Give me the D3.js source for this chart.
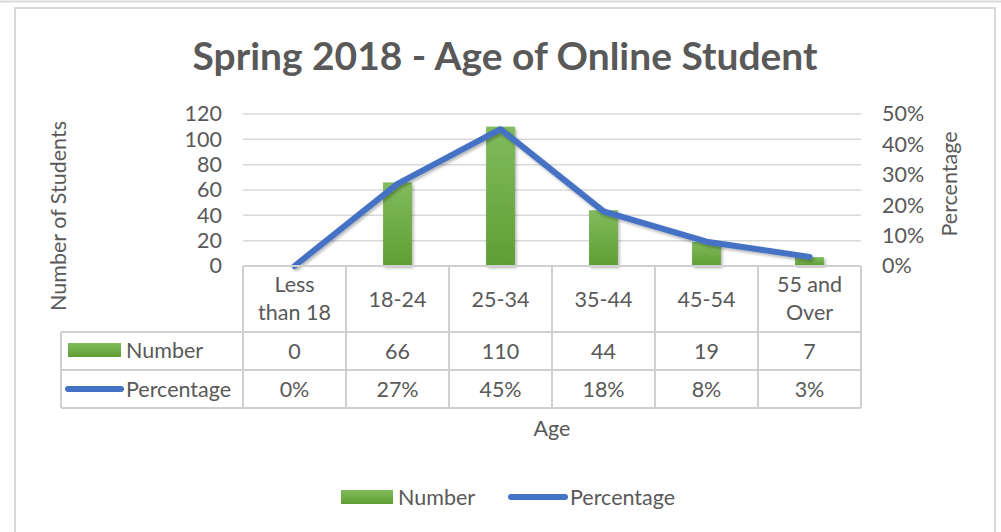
<!DOCTYPE html>
<html>
<head>
<meta charset="utf-8">
<script src="https://cdn.jsdelivr.net/npm/d3@7"></script>
<style>
  body { margin: 0; background: #fff; }
  text { font-family: Lato, "Open Sans", sans-serif; fill: #595959; }
</style>
</head>
<body>
<div id="chart"></div>
<script>
const categories = ['Less than 18', '18-24', '25-34', '35-44', '45-54', '55 and Over'];
const categoryLines = [['Less', 'than 18'], ['18-24'], ['25-34'], ['35-44'], ['45-54'], ['55 and', 'Over']];
const numbers = [0, 66, 110, 44, 19, 7];
const percentages = [0, 0.27, 0.45, 0.18, 0.08, 0.03];
const leftTicks = [0, 20, 40, 60, 80, 100, 120];
const rightTicks = [0, 0.1, 0.2, 0.3, 0.4, 0.5];

const width = 1001;
const height = 532;
const plot = {left: 243, right: 861, top: 114, bottom: 266};
const tableLeft = 61;
const rowEdges = [266, 332, 370, 408];
const fontSize = 21.5;
const blue = '#4472C4';
const gridColor = '#d9d9d9';

const svg = d3.select('#chart').append('svg')
    .attr('width', width)
    .attr('height', height);

const defs = svg.append('defs');
const grad = defs.append('linearGradient')
    .attr('id', 'barGrad')
    .attr('x1', 0).attr('y1', 0).attr('x2', 0).attr('y2', 1);
grad.append('stop').attr('offset', '0%').attr('stop-color', '#81bb5c');
grad.append('stop').attr('offset', '100%').attr('stop-color', '#5f9e34');

const shadow = defs.append('filter')
    .attr('id', 'shadow')
    .attr('x', '-20%').attr('y', '-20%')
    .attr('width', '140%').attr('height', '140%');
shadow.append('feDropShadow')
    .attr('dx', 1.5).attr('dy', 2)
    .attr('stdDeviation', 1.8)
    .attr('flood-color', '#000')
    .attr('flood-opacity', 0.3);

// frame
svg.append('line')
    .attr('x1', 0).attr('x2', width)
    .attr('y1', 1.5).attr('y2', 1.5)
    .attr('stroke', '#d9d9d9').attr('stroke-width', 2);
svg.append('path')
    .attr('d', `M15,${height} V8 H995 V${height}`)
    .attr('fill', 'none')
    .attr('stroke', '#d9d9d9')
    .attr('stroke-width', 2);

// scales
const xScale = d3.scaleBand()
    .domain(categories)
    .range([plot.left, plot.right]);
const yLeft = d3.scaleLinear()
    .domain([0, 120])
    .range([plot.bottom, plot.top]);
const yRight = d3.scaleLinear()
    .domain([0, 0.5])
    .range([plot.bottom, plot.top]);
const xMid = cat => xScale(cat) + xScale.bandwidth() / 2;

// gridlines
svg.append('g')
    .selectAll('line')
    .data(leftTicks.slice(1))
    .join('line')
    .attr('x1', plot.left).attr('x2', plot.right)
    .attr('y1', d => yLeft(d)).attr('y2', d => yLeft(d))
    .attr('stroke', gridColor)
    .attr('stroke-width', 1.5);

// left axis
const leftAxis = svg.append('g')
    .attr('transform', `translate(${plot.left - 21},0)`)
    .call(d3.axisLeft(yLeft).tickValues(leftTicks).tickSize(0).tickPadding(0));
leftAxis.select('.domain').remove();
leftAxis.selectAll('text')
    .attr('font-size', fontSize)
    .attr('font-family', 'Lato')
    .attr('fill', '#595959');

// right axis
const rightAxis = svg.append('g')
    .attr('transform', `translate(${plot.right + 21},0)`)
    .call(d3.axisRight(yRight).tickValues(rightTicks).tickFormat(d3.format('.0%')).tickSize(0).tickPadding(0));
rightAxis.select('.domain').remove();
rightAxis.selectAll('text')
    .attr('font-size', fontSize)
    .attr('font-family', 'Lato')
    .attr('fill', '#595959');

// bars
const barWidth = xScale.bandwidth() * 0.28;
svg.append('g')
    .selectAll('rect')
    .data(categories)
    .join('rect')
    .attr('x', d => xMid(d) - barWidth / 2)
    .attr('y', (d, i) => yLeft(numbers[i]))
    .attr('width', barWidth)
    .attr('height', (d, i) => plot.bottom - yLeft(numbers[i]))
    .attr('fill', 'url(#barGrad)')
    .attr('filter', 'url(#shadow)');

// line
const line = d3.line()
    .x((d, i) => xMid(categories[i]))
    .y(d => yRight(d));
svg.append('path')
    .datum(percentages)
    .attr('d', line)
    .attr('fill', 'none')
    .attr('stroke', blue)
    .attr('stroke-width', 6)
    .attr('stroke-linecap', 'round')
    .attr('stroke-linejoin', 'round')
    .attr('filter', 'url(#shadow)');

// data table
const table = svg.append('g');
const tableStroke = '#d0d0d0';
table.append('line')
    .attr('x1', plot.left).attr('x2', plot.right)
    .attr('y1', rowEdges[0]).attr('y2', rowEdges[0])
    .attr('stroke', tableStroke).attr('stroke-width', 2);
table.selectAll('.hline')
    .data(rowEdges.slice(1))
    .join('line')
    .attr('class', 'hline')
    .attr('x1', tableLeft).attr('x2', plot.right)
    .attr('y1', d => d).attr('y2', d => d)
    .attr('stroke', tableStroke).attr('stroke-width', 2);
const colEdges = categories.map(c => xScale(c)).concat([plot.right]);
table.selectAll('.vline')
    .data(colEdges)
    .join('line')
    .attr('class', 'vline')
    .attr('x1', d => d).attr('x2', d => d)
    .attr('y1', rowEdges[0]).attr('y2', rowEdges[3])
    .attr('stroke', tableStroke).attr('stroke-width', 2);
table.append('line')
    .attr('x1', tableLeft).attr('x2', tableLeft)
    .attr('y1', rowEdges[1]).attr('y2', rowEdges[3])
    .attr('stroke', tableStroke).attr('stroke-width', 2);

// category labels
const catLabels = table.selectAll('.cat')
    .data(categoryLines)
    .join('text')
    .attr('class', 'cat')
    .attr('text-anchor', 'middle')
    .attr('font-size', fontSize)
    .attr('x', (d, i) => xMid(categories[i]))
    .attr('y', d => d.length === 1 ? 307 : 292);
catLabels.selectAll('tspan')
    .data(d => d)
    .join('tspan')
    .attr('x', function() { return this.parentNode.getAttribute('x'); })
    .attr('dy', (d, i) => i === 0 ? 0 : 28)
    .text(d => d);

// value rows
table.selectAll('.num')
    .data(numbers)
    .join('text')
    .attr('class', 'num')
    .attr('text-anchor', 'middle')
    .attr('font-size', fontSize)
    .attr('x', (d, i) => xMid(categories[i]))
    .attr('y', 359)
    .text(d => d);
table.selectAll('.pct')
    .data(percentages)
    .join('text')
    .attr('class', 'pct')
    .attr('text-anchor', 'middle')
    .attr('font-size', fontSize)
    .attr('x', (d, i) => xMid(categories[i]))
    .attr('y', 397)
    .text(d => d3.format('.0%')(d));

// row keys
table.append('rect')
    .attr('x', 68).attr('y', 343)
    .attr('width', 53).attr('height', 14)
    .attr('fill', 'url(#barGrad)');
table.append('text')
    .attr('x', 126).attr('y', 358)
    .attr('font-size', fontSize)
    .text('Number');
table.append('line')
    .attr('x1', 68).attr('x2', 121)
    .attr('y1', 389).attr('y2', 389)
    .attr('stroke', blue).attr('stroke-width', 6)
    .attr('stroke-linecap', 'round');
table.append('text')
    .attr('x', 126).attr('y', 397)
    .attr('font-size', fontSize)
    .text('Percentage');

// axis titles
svg.append('text')
    .attr('transform', 'translate(66,216) rotate(-90)')
    .attr('text-anchor', 'middle')
    .attr('font-size', fontSize)
    .text('Number of Students');
svg.append('text')
    .attr('transform', 'translate(957,184) rotate(-90)')
    .attr('text-anchor', 'middle')
    .attr('font-size', fontSize)
    .text('Percentage');
svg.append('text')
    .attr('x', 552).attr('y', 436)
    .attr('text-anchor', 'middle')
    .attr('font-size', fontSize)
    .text('Age');

// title
const title = svg.append('text')
    .attr('x', 505).attr('y', 70)
    .attr('text-anchor', 'middle')
    .attr('font-size', 36)
    .attr('font-weight', 'bold')
    .text('Spring 2018 - Age of Online Student');
const tw = title.node().getComputedTextLength();
title.attr('font-size', 36 * 625 / tw);

// legend
const legend = svg.append('g');
legend.append('rect')
    .attr('x', 341).attr('y', 490)
    .attr('width', 52).attr('height', 14)
    .attr('fill', 'url(#barGrad)');
legend.append('text')
    .attr('x', 398).attr('y', 505)
    .attr('font-size', fontSize)
    .text('Number');
legend.append('line')
    .attr('x1', 511).attr('x2', 565)
    .attr('y1', 497).attr('y2', 497)
    .attr('stroke', blue).attr('stroke-width', 6)
    .attr('stroke-linecap', 'round');
legend.append('text')
    .attr('x', 570).attr('y', 505)
    .attr('font-size', fontSize)
    .text('Percentage');
</script>
</body>
</html>
